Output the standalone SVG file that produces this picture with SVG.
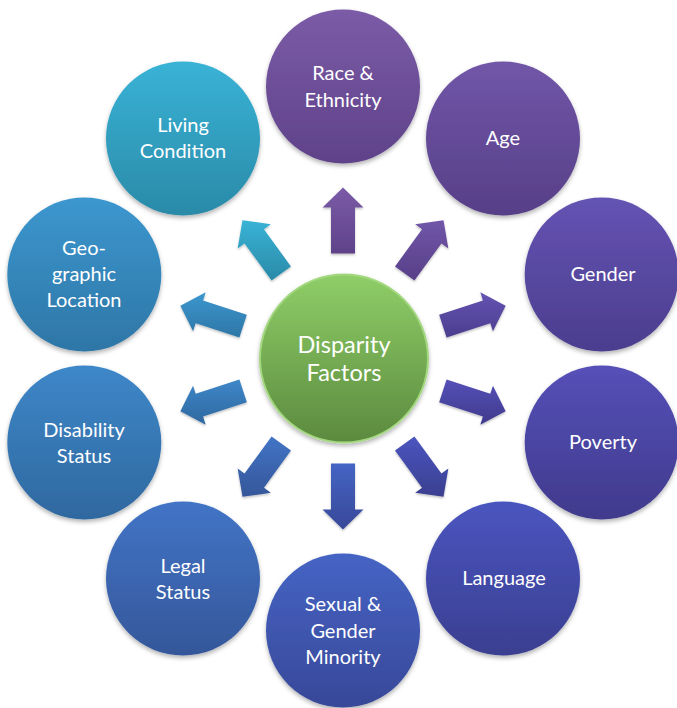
<svg xmlns="http://www.w3.org/2000/svg" width="677" height="708" viewBox="0 0 677 708">
<style>
  .lbl { font-family: Lato, "Open Sans", "Liberation Sans", sans-serif; font-size: 20px; fill: #ffffff; text-anchor: middle; }
  .ctr { font-family: Lato, "Open Sans", "Liberation Sans", sans-serif; font-size: 23.5px; fill: #ffffff; text-anchor: middle; }
  .node circle { filter: url(#sh); }
  .arr polygon { filter: url(#sh2); }
</style>
<defs>
  <filter id="sh" x="-20%" y="-20%" width="140%" height="140%">
    <feDropShadow dx="0" dy="2.5" stdDeviation="2" flood-color="#000" flood-opacity="0.3"/>
  </filter>
  <filter id="sh2" x="-20%" y="-20%" width="140%" height="140%">
    <feDropShadow dx="0" dy="1.5" stdDeviation="1.2" flood-color="#000" flood-opacity="0.25"/>
  </filter>
  <linearGradient id="gRace" x1="0" y1="0" x2="0" y2="1"><stop offset="0" stop-color="#7b5ba7"/><stop offset="1" stop-color="#5f4289"/></linearGradient>
  <linearGradient id="gAge" x1="0" y1="0" x2="0" y2="1"><stop offset="0" stop-color="#7156a8"/><stop offset="1" stop-color="#573f88"/></linearGradient>
  <linearGradient id="gGender" x1="0" y1="0" x2="0" y2="1"><stop offset="0" stop-color="#6553b3"/><stop offset="1" stop-color="#4b3d8e"/></linearGradient>
  <linearGradient id="gPoverty" x1="0" y1="0" x2="0" y2="1"><stop offset="0" stop-color="#5550b8"/><stop offset="1" stop-color="#403a8c"/></linearGradient>
  <linearGradient id="gLang" x1="0" y1="0" x2="0" y2="1"><stop offset="0" stop-color="#4a55bf"/><stop offset="1" stop-color="#3a3f90"/></linearGradient>
  <linearGradient id="gSGM" x1="0" y1="0" x2="0" y2="1"><stop offset="0" stop-color="#4564c4"/><stop offset="1" stop-color="#384898"/></linearGradient>
  <linearGradient id="gLegal" x1="0" y1="0" x2="0" y2="1"><stop offset="0" stop-color="#4274c6"/><stop offset="1" stop-color="#35579a"/></linearGradient>
  <linearGradient id="gDis" x1="0" y1="0" x2="0" y2="1"><stop offset="0" stop-color="#3e87c9"/><stop offset="1" stop-color="#2f689f"/></linearGradient>
  <linearGradient id="gGeo" x1="0" y1="0" x2="0" y2="1"><stop offset="0" stop-color="#3c97cf"/><stop offset="1" stop-color="#2e76a6"/></linearGradient>
  <linearGradient id="gLiv" x1="0" y1="0" x2="0" y2="1"><stop offset="0" stop-color="#39b3d6"/><stop offset="1" stop-color="#2a8aa8"/></linearGradient>
  <linearGradient id="gCtr" x1="0" y1="0" x2="0" y2="1"><stop offset="0" stop-color="#8fce68"/><stop offset="1" stop-color="#5b8a3e"/></linearGradient>
</defs>
<rect width="677" height="708" fill="#ffffff"/>

<g id="connectors" class="arr">
  <polygon fill="url(#gRace)" points="331,253.5 331,207.5 322.5,207.5 343,187.5 363.5,207.5 355,207.5 355,253.5"/>
  <polygon fill="url(#gAge)" points="395.01,266.5 422.05,229.29 415.18,224.29 443.51,220.16 448.34,248.39 441.47,243.39 414.43,280.6"/>
  <polygon fill="url(#gGender)" points="439.16,314.64 482.91,300.43 480.29,292.34 505.64,305.66 492.95,331.34 490.33,323.25 446.58,337.46"/>
  <polygon fill="url(#gPoverty)" points="446.58,379.54 490.33,393.75 492.95,385.66 505.64,411.34 480.29,424.66 482.91,416.57 439.16,402.36"/>
  <polygon fill="url(#gLang)" points="414.43,436.4 441.47,473.61 448.34,468.61 443.51,496.84 415.18,492.71 422.05,487.71 395.01,450.5"/>
  <polygon fill="url(#gSGM)" points="355,463.5 355,509.5 363.5,509.5 343,529.5 322.5,509.5 331,509.5 331,463.5"/>
  <polygon fill="url(#gLegal)" points="290.99,450.5 263.95,487.71 270.82,492.71 242.49,496.84 237.66,468.61 244.53,473.61 271.57,436.4"/>
  <polygon fill="url(#gDis)" points="246.84,402.36 203.09,416.57 205.71,424.66 180.36,411.34 193.05,385.66 195.67,393.75 239.42,379.54"/>
  <polygon fill="url(#gGeo)" points="239.42,337.46 195.67,323.25 193.05,331.34 180.36,305.66 205.71,292.34 203.09,300.43 246.84,314.64"/>
  <polygon fill="url(#gLiv)" points="271.57,280.6 244.53,243.39 237.66,248.39 242.49,220.16 270.82,224.29 263.95,229.29 290.99,266.5"/>
</g>

<g id="center" class="node">
  <circle cx="344" cy="358.5" r="84" fill="url(#gCtr)" stroke="#a3d880" stroke-width="2"/>
  <text class="ctr" x="344" y="352.5">Disparity</text>
  <text class="ctr" x="344" y="381">Factors</text>
</g>

<g id="race" class="node">
  <circle cx="343" cy="86.5" r="77" fill="url(#gRace)"/>
  <text class="lbl" x="343" y="80">Race &amp;</text>
  <text class="lbl" x="343" y="107">Ethnicity</text>
</g>
<g id="age" class="node">
  <circle cx="503" cy="138.5" r="77" fill="url(#gAge)"/>
  <text class="lbl" x="503" y="145">Age</text>
</g>
<g id="gender" class="node">
  <circle cx="601.7" cy="274.5" r="77" fill="url(#gGender)"/>
  <text class="lbl" x="603" y="281">Gender</text>
</g>
<g id="poverty" class="node">
  <circle cx="601.7" cy="442.5" r="77" fill="url(#gPoverty)"/>
  <text class="lbl" x="603" y="449">Poverty</text>
</g>
<g id="language" class="node">
  <circle cx="503" cy="578.5" r="77" fill="url(#gLang)"/>
  <text class="lbl" x="504" y="585">Language</text>
</g>
<g id="sgm" class="node">
  <circle cx="343" cy="630.5" r="77" fill="url(#gSGM)"/>
  <text class="lbl" x="343" y="611">Sexual &amp;</text>
  <text class="lbl" x="343" y="638">Gender</text>
  <text class="lbl" x="343" y="664">Minority</text>
</g>
<g id="legal" class="node">
  <circle cx="183" cy="578.5" r="77" fill="url(#gLegal)"/>
  <text class="lbl" x="183" y="573">Legal</text>
  <text class="lbl" x="183" y="599">Status</text>
</g>
<g id="disability" class="node">
  <circle cx="84.3" cy="442.5" r="77" fill="url(#gDis)"/>
  <text class="lbl" x="84" y="437">Disability</text>
  <text class="lbl" x="84" y="463">Status</text>
</g>
<g id="geo" class="node">
  <circle cx="84.3" cy="274.5" r="77" fill="url(#gGeo)"/>
  <text class="lbl" x="84" y="255">Geo-</text>
  <text class="lbl" x="84" y="281">graphic</text>
  <text class="lbl" x="84" y="307">Location</text>
</g>
<g id="living" class="node">
  <circle cx="183" cy="138.5" r="77" fill="url(#gLiv)"/>
  <text class="lbl" x="183" y="132">Living</text>
  <text class="lbl" x="183" y="158">Condition</text>
</g>
</svg>
